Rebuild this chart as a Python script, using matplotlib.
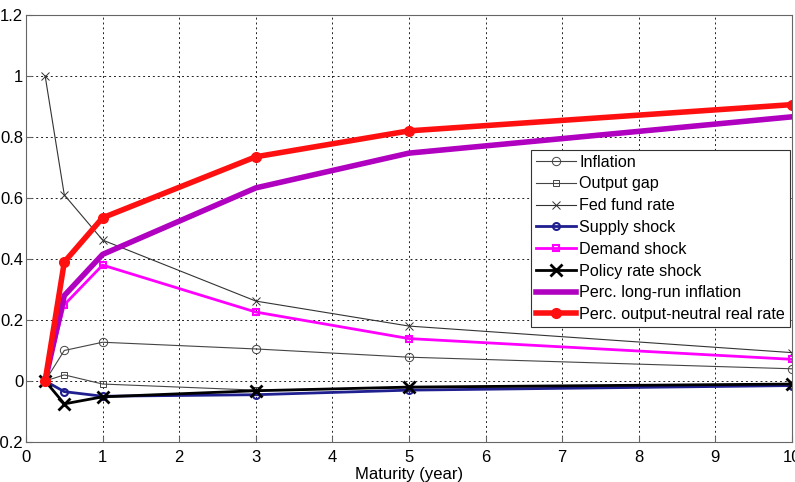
import matplotlib; matplotlib.use('Agg')
import matplotlib.pyplot as plt

plt.rcParams['font.family'] = ['Liberation Sans', 'DejaVu Sans']

maturity = [0.25, 0.5, 1, 3, 5, 10]
inflation = [0, 0.100, 0.127, 0.105, 0.078, 0.040]
output_gap = [0, 0.020, -0.010, -0.030, -0.022, -0.012]
fed_fund = [1.0, 0.610, 0.462, 0.262, 0.180, 0.093]
supply = [0, -0.035, -0.050, -0.045, -0.030, -0.015]
demand = [0, 0.250, 0.380, 0.226, 0.139, 0.071]
policy = [0, -0.075, -0.052, -0.032, -0.020, -0.010]
lr_infl = [0, 0.280, 0.415, 0.633, 0.747, 0.866]
real_rate = [0, 0.390, 0.535, 0.735, 0.820, 0.906]

fig = plt.figure(figsize=(7.95, 4.82), dpi=100)
ax = fig.add_axes([0.0327, 0.083, 0.9635, 0.886])

ax.plot(maturity, inflation, color='#444444', lw=0.8, marker='o', ms=6,
        mfc='none', mec='#444444', mew=0.7, label='Inflation')
ax.plot(maturity, output_gap, color='#444444', lw=0.8, marker='s', ms=5,
        mfc='none', mec='#444444', mew=0.7, label='Output gap')
ax.plot(maturity, fed_fund, color='#333333', lw=0.8, marker='x', ms=6,
        mew=0.7, label='Fed fund rate')
ax.plot(maturity, supply, color='#1f1f8f', lw=2, marker='o', ms=5,
        mfc='none', mec='#1f1f8f', mew=1.5, label='Supply shock')
ax.plot(maturity, demand, color='#ff00ff', lw=2, marker='s', ms=5,
        mfc='none', mec='#ff00ff', mew=1.5, label='Demand shock')
ax.plot(maturity, policy, color='black', lw=2, marker='x', ms=9,
        mew=2, label='Policy rate shock')
ax.plot(maturity, lr_infl, color='#b000c0', lw=4, label='Perc. long-run inflation')
ax.plot(maturity, real_rate, color='#ff1010', lw=4, marker='o', ms=7,
        label='Perc. output-neutral real rate')

ax.set_xlim(0, 10)
ax.set_ylim(-0.2, 1.2)
ax.set_xticks(range(11))
ax.set_yticks([-0.2, 0, 0.2, 0.4, 0.6, 0.8, 1.0, 1.2])
ax.set_yticklabels(['-0.2', '0', '0.2', '0.4', '0.6', '0.8', '1', '1.2'])
ax.tick_params(labelsize=12, direction='in', length=4, color='#666666')
ax.tick_params(axis='x', pad=6)
ax.tick_params(axis='y', pad=2)
ax.grid(True, color='#222222', ls=(0, (2, 3)), lw=0.7)
for s in ax.spines.values():
    s.set_color('#666666')
ax.set_xlabel('Maturity (year)', fontsize=12, labelpad=1)

leg = ax.legend(loc='upper right', bbox_to_anchor=(0.997, 0.684), fontsize=11.6,
                fancybox=False, framealpha=1, edgecolor='#333333',
                borderpad=0.3, labelspacing=0.42, handlelength=2.5,
                handletextpad=0.2, borderaxespad=0)
leg.get_frame().set_linewidth(0.8)

plt.savefig('out.png', dpi=100)
